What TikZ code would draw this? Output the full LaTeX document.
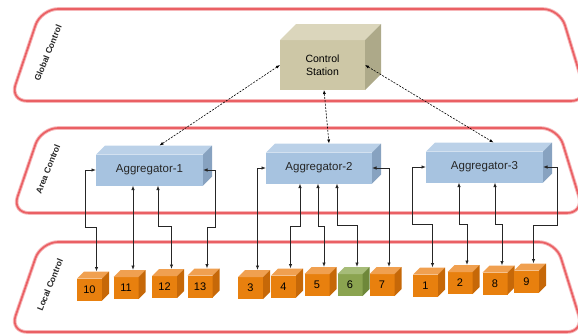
\documentclass[tikz,border=0pt]{standalone}
\usepackage{fontspec}
\setmainfont{Liberation Sans}
\usetikzlibrary{arrows.meta,positioning,calc}

\definecolor{bandred}{RGB}{234,96,100}
\definecolor{csF}{RGB}{205,199,166}
\definecolor{csT}{RGB}{219,214,188}
\definecolor{csS}{RGB}{173,169,137}
\definecolor{aggF}{RGB}{167,195,224}
\definecolor{aggT}{RGB}{187,209,232}
\definecolor{aggS}{RGB}{135,162,192}
\definecolor{orgF}{RGB}{232,128,14}
\definecolor{orgT}{RGB}{240,160,80}
\definecolor{orgS}{RGB}{198,104,8}
\definecolor{grnF}{RGB}{139,164,80}
\definecolor{grnT}{RGB}{166,188,120}
\definecolor{grnS}{RGB}{110,136,58}

% top and side faces of a box node
\newcommand{\faces}[4]{%
  \fill[#3] (#1.north west) -- ++(#2,-#2) -- ([shift={(#2,-#2)}]#1.north east) -- (#1.north east) -- cycle;
  \fill[#4] (#1.north east) -- ++(#2,-#2) -- ([shift={(#2,-#2)}]#1.south east) -- (#1.south east) -- cycle;}

\begin{document}
\begin{tikzpicture}[x=1pt,y=-1pt,
    band/.style={draw=bandred!45, line width=3.6pt, rounded corners=17pt,
                 postaction={draw=bandred, line width=1.7pt}},
    layer/.style={font=\bfseries\fontsize{8.6}{10}\selectfont, rotate=68, text=black!85},
    csbox/.style={fill=csF, minimum width=85pt, minimum height=50pt, inner sep=0pt,
                  outer sep=0pt, align=center, font=\fontsize{10.5}{12.5}\selectfont},
    aggbox/.style={fill=aggF, minimum height=31pt, inner sep=0pt, outer sep=0pt,
                   font=\fontsize{11.5}{13}\selectfont, text=black!85},
    dev/.style={minimum width=25pt, minimum height=22pt, inner sep=0pt, outer sep=0pt,
                font=\fontsize{11}{13}\selectfont},
    link/.style={{Latex[length=4.5pt,width=3.4pt]}-{Latex[length=4.5pt,width=3.4pt]},
                 line width=0.8pt, black!85},
    dotlink/.style={{Latex[length=4pt,width=3pt]}-{Latex[length=4pt,width=3pt]},
                    line width=0.6pt, dash pattern=on 2pt off 1.3pt}]

    \useasboundingbox (0,0) rectangle (578,333);
    \clip (0,0) rectangle (578,333);

    % layers -----------------------------------------------------------
    \draw[band] (41,9) -- (560,9) -- (588,101) -- (10,101) -- cycle;
    \draw[band] (41,128) -- (558,128) -- (584,213) -- (12,213) -- cycle;
    \draw[band] (41,242) -- (556,242) -- (584,332) -- (10,332) -- cycle;
    \node[layer] (lg) at (48,53)  {Global Control};
    \node[layer] (la) at (48,169) {Area Control};
    \node[layer] (ll) at (50,285) {Local Control};

    % control station and aggregators ----------------------------------
    \node[csbox] (cs) at (322.5,65) {Control\\Station};
    \faces{cs}{16}{csT}{csS}

    \node[aggbox, minimum width=107pt] (agg1) at (149.5,170) {Aggregator-1};
    \node[aggbox, minimum width=106pt] (agg2) at (319,168)   {Aggregator-2};
    \node[aggbox, minimum width=117pt] (agg3) at (484.5,167) {Aggregator-3};
    \foreach \a in {agg1,agg2,agg3} {\faces{\a}{9}{aggT}{aggS}}

    % local devices ----------------------------------------------------
    \foreach \n/\x/\y/\col in {10/89.5/289.5/org, 11/126/288/org, 12/164.5/287/org,
                               13/200/286.5/org, 3/250.5/288/org, 4/283.5/286.5/org,
                               5/317/285/org, 6/350/285/grn, 7/382/285/org,
                               1/425.5/285.5/org, 2/460/283/org, 8/495/283.5/org,
                               9/526.5/281.5/org} {
        \node[dev, fill=\col F] (d\n) at (\x,\y) {\n};
        \faces{d\n}{7}{\col T}{\col S}
        \coordinate (d\n-t) at ([shift={(7,-7)}]d\n.north);
    }

    % links --------------------------------------------------------------
    \draw[dotlink] (cs.west) -- ([shift={(10,-9)}]agg1.north);
    \draw[dotlink] ([xshift=1.5]cs.south) -- ([shift={(10,-9)}]agg2.north);
    \draw[dotlink] (cs.east) -- ([shift={(9,-9)}]agg3.north);

    \draw[link] (agg1.west) -- ++(-11,0) -- ++(0,57) -| (d10-t);
    \draw[link] (agg1.south -| d11-t) -- (d11-t);
    \draw[link] ([xshift=8.5]agg1.south) -- ++(0,41) -| (d12-t);
    \draw[link] (agg1.east) -- ++(12,0) -- ++(0,57) -| (d13-t);

    \draw[link] (agg2.west) -| (d3-t);
    \draw[link] ([xshift=-19]agg2.south) -- ++(0,43) -| (d4-t);
    \draw[link] ([xshift=-1]agg2.south) -- ++(0,43) -| (d5-t);
    \draw[link] ([xshift=18]agg2.south) -- ++(0,42) -| (d6-t);
    \draw[link] (agg2.east) -| (d7-t);

    \draw[link] (agg3.west) -- ++(-14,0) -- ++(0,57) -| (d1-t);
    \draw[link] ([xshift=-25.5]agg3.south) -- ++(0,42) -| (d2-t);
    \draw[link] ([xshift=10.5]agg3.south) -- ++(0,42) -| (d8-t);
    \draw[link] (agg3.east) -- ++(14,0) -- ++(0,58) -| (d9-t);
\end{tikzpicture}
\end{document}
